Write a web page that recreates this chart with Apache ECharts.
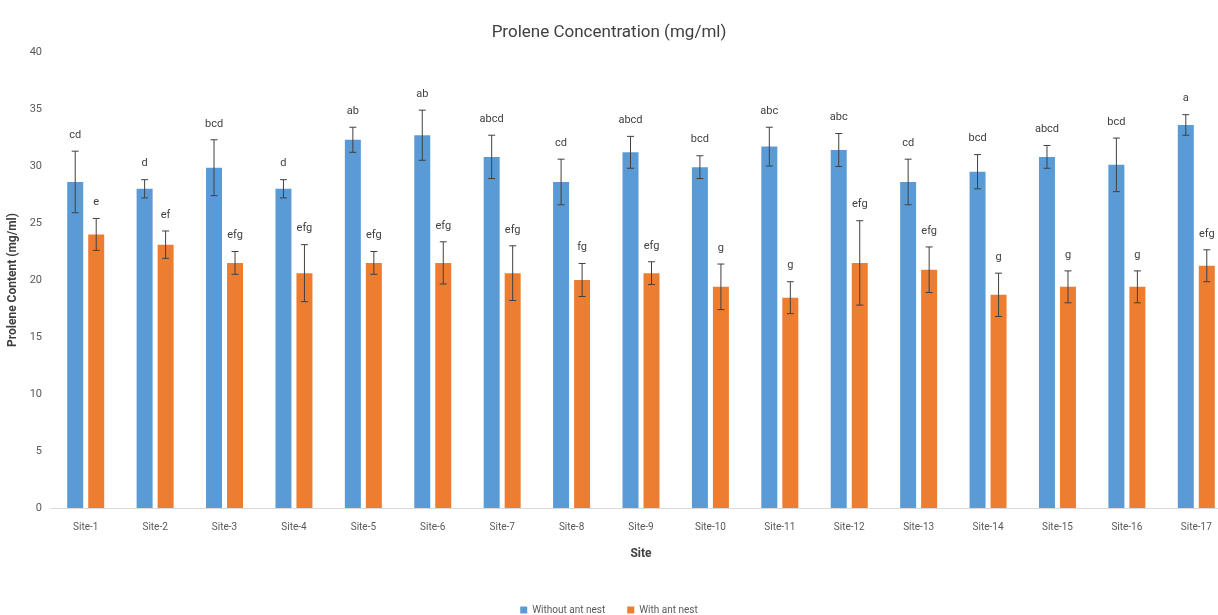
<!DOCTYPE html>
<html>
<head>
<meta charset="utf-8">
<script src="https://cdn.jsdelivr.net/npm/echarts@6/dist/echarts.min.js"></script>
<style>
  html, body { margin: 0; padding: 0; background: #fff; }
  #chart { width: 1218px; height: 615px; }
</style>
</head>
<body>
<div id="chart"></div>
<script>
const chart = echarts.init(document.getElementById("chart"));

// ==========================
// DATA
// ==========================

const sites = [
  "Site-1", "Site-2", "Site-3", "Site-4", "Site-5", "Site-6", "Site-7", "Site-8", "Site-9",
  "Site-10", "Site-11", "Site-12", "Site-13", "Site-14", "Site-15", "Site-16", "Site-17"
];

const withoutNest = [28.6, 28.0, 29.85, 28.0, 32.3, 32.7, 30.8, 28.6, 31.2, 29.9, 31.7, 31.4, 28.6, 29.5, 30.8, 30.1, 33.6];
const withoutErr = [2.7, 0.8, 2.45, 0.8, 1.1, 2.2, 1.9, 2.0, 1.4, 1.0, 1.7, 1.45, 2.0, 1.5, 1.0, 2.35, 0.9];
const withoutLetters = ["cd", "d", "bcd", "d", "ab", "ab", "abcd", "cd", "abcd", "bcd", "abc", "abc", "cd", "bcd", "abcd", "bcd", "a"];

const withNest = [24.0, 23.1, 21.5, 20.6, 21.5, 21.5, 20.6, 20.0, 20.6, 19.4, 18.45, 21.5, 20.9, 18.7, 19.4, 19.4, 21.25];
const withErr = [1.4, 1.2, 1.0, 2.5, 1.0, 1.85, 2.4, 1.45, 1.0, 2.0, 1.4, 3.7, 2.0, 1.9, 1.4, 1.4, 1.4];
const withLetters = ["e", "ef", "efg", "efg", "efg", "efg", "efg", "fg", "efg", "g", "g", "efg", "efg", "g", "g", "g", "efg"];

const yTicks = [0, 5, 10, 15, 20, 25, 30, 35, 40];

// ==========================
// STYLE
// ==========================

const FONT = "Roboto, 'Open Sans', sans-serif";
const BLUE = "#5B9BD5";
const ORANGE = "#ED7D31";
const BAR_W = 16;
const BAR_GAP = 5;

// error bars + significance letters drawn on top of each bar
function errorSeries(name, values, errs, letters, offset) {
  return {
    type: "custom",
    name: name + " err",
    z: 5,
    silent: true,
    data: values.map((v, i) => [i, v, errs[i], letters[i]]),
    encode: { x: 0, y: 1 },
    renderItem: (params, api) => {
      const i = api.value(0);
      const v = api.value(1);
      const e = api.value(2);
      const top = api.coord([i, v + e]);
      const bot = api.coord([i, v - e]);
      const x = top[0] + offset;
      const cap = 3.5;
      const style = { stroke: "#404040", lineWidth: 1 };
      return {
        type: "group",
        children: [
          { type: "line", shape: { x1: x, y1: top[1], x2: x, y2: bot[1] }, style },
          { type: "line", shape: { x1: x - cap, y1: top[1], x2: x + cap, y2: top[1] }, style },
          { type: "line", shape: { x1: x - cap, y1: bot[1], x2: x + cap, y2: bot[1] }, style },
          {
            type: "text",
            style: {
              x: x,
              y: top[1] - 16,
              text: letters[i],
              fill: "#404040",
              font: "11px " + FONT,
              align: "center",
              verticalAlign: "middle"
            }
          }
        ]
      };
    }
  };
}

chart.setOption({
  animation: false,
  title: {
    text: "Prolene Concentration (mg/ml)",
    left: "center",
    top: 19,
    textStyle: { fontFamily: FONT, fontSize: 17, fontWeight: "normal", color: "#404040" }
  },
  legend: {
    top: 600,
    left: "center",
    itemWidth: 7,
    itemHeight: 7,
    itemGap: 22,
    icon: "rect",
    data: ["Without ant nest", "With ant nest"],
    textStyle: { fontFamily: FONT, fontSize: 10, color: "#595959" }
  },
  // the plot runs past the right edge of the picture, as in the source
  grid: { left: 51, top: 52, width: 1180, height: 456, outerBoundsMode: "none", containLabel: false },
  xAxis: {
    type: "category",
    data: sites,
    name: "Site",
    nameLocation: "middle",
    nameGap: 40,
    nameTextStyle: { fontFamily: FONT, fontSize: 12, fontWeight: "bold", color: "#404040" },
    axisLine: { lineStyle: { color: "#d9d9d9" } },
    axisTick: { show: false },
    axisLabel: { fontFamily: FONT, fontSize: 10, color: "#595959", margin: 14 }
  },
  yAxis: {
    type: "value",
    min: yTicks[0],
    max: yTicks[yTicks.length - 1],
    interval: yTicks[1] - yTicks[0],
    name: "Prolene Content (mg/ml)",
    nameLocation: "middle",
    nameGap: 26,
    nameTextStyle: { fontFamily: FONT, fontSize: 12, fontWeight: "bold", color: "#404040" },
    axisLine: { show: false },
    axisTick: { show: false },
    splitLine: { show: false },
    axisLabel: { fontFamily: FONT, fontSize: 11, color: "#595959", margin: 9 }
  },
  series: [
    {
      type: "bar",
      name: "Without ant nest",
      data: withoutNest,
      barWidth: BAR_W,
      barGap: (BAR_GAP / BAR_W * 100) + "%",
      itemStyle: { color: BLUE }
    },
    {
      type: "bar",
      name: "With ant nest",
      data: withNest,
      barWidth: BAR_W,
      itemStyle: { color: ORANGE }
    },
    errorSeries("Without ant nest", withoutNest, withoutErr, withoutLetters, -(BAR_W + BAR_GAP) / 2),
    errorSeries("With ant nest", withNest, withErr, withLetters, (BAR_W + BAR_GAP) / 2)
  ]
});
</script>
</body>
</html>
